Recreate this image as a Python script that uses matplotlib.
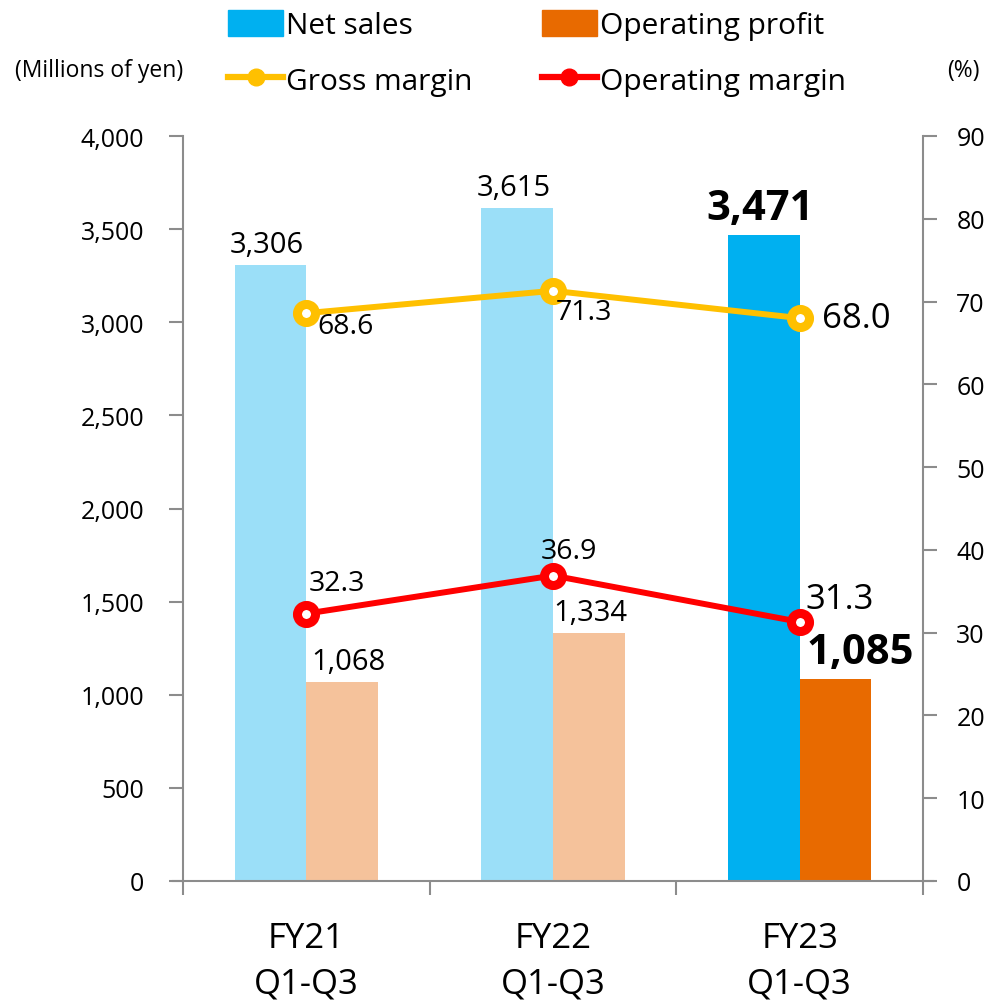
import matplotlib
matplotlib.use("Agg")
import matplotlib.pyplot as plt
import numpy as np
from matplotlib.lines import Line2D
from matplotlib.patches import Patch

plt.rcParams['font.family'] = ['Open Sans', 'DejaVu Sans']

categories = ["FY21\nQ1-Q3", "FY22\nQ1-Q3", "FY23\nQ1-Q3"]
net_sales = [3306, 3615, 3471]
operating_profit = [1068, 1334, 1085]
gross_margin = [68.6, 71.3, 68.0]
operating_margin = [32.3, 36.9, 31.3]

ns_colors = ["#9BDFF8", "#9BDFF8", "#00B0F0"]
op_colors = ["#F5C29B", "#F5C29B", "#E86A00"]
grey = "#8C8C8C"

fig = plt.figure(figsize=(9.87, 10.03), dpi=100)
ax = fig.add_axes([183/987, 1-882/1003, 740/987, 745/1003])
ax2 = ax.twinx()

x = np.arange(len(categories))
w = 0.29
ax.bar(x - w/2, net_sales, w, color=ns_colors, zorder=2)
ax.bar(x + w/2, operating_profit, w, color=op_colors, zorder=2)
ax.set_xlim(-0.5, 2.5)
ax.set_ylim(0, 4000)
ax.set_yticks(np.arange(0, 4001, 500))
ax.set_yticklabels([f"{v:,}" for v in range(0, 4001, 500)])
ax.set_xticks([-0.5, 0.5, 1.5, 2.5])
ax.set_xticklabels([])
ax.set_xticks(x, minor=True)
ax.set_xticklabels(categories, minor=True, fontsize=25, linespacing=1.45)
ax.tick_params(axis='x', which='minor', length=0, pad=29)
ax.tick_params(axis='x', which='major', length=10, width=1.5, color=grey, direction='out')

ax2.set_ylim(0, 90)
ax2.set_yticks(np.arange(0, 91, 10))
ax2.plot(x, gross_margin, color="#FFC000", lw=4.3, marker='o', ms=13,
         mfc='white', mec="#FFC000", mew=6.5, zorder=3)
ax2.plot(x, operating_margin, color="#FF0000", lw=4.3, marker='o', ms=13,
         mfc='white', mec="#FF0000", mew=6.5, zorder=3)

for a in (ax, ax2):
    a.spines['top'].set_visible(False)
    for s in ('left', 'right', 'bottom'):
        a.spines[s].set_color(grey)
        a.spines[s].set_linewidth(1.5)
    a.tick_params(axis='y', length=10, width=1.5, color=grey, labelsize=18)
ax.tick_params(axis='y', pad=18)
ax2.tick_params(axis='y', pad=14)
ax.spines['bottom'].set_visible(False)
ax2.spines['bottom'].set_visible(False)
ax.spines['right'].set_visible(False)
ax2.spines['left'].set_visible(False)
ax.axhline(0, xmin=-0.013, xmax=1.013, color=grey, lw=1.5, clip_on=False, zorder=4)

# data labels for bars (offsets in pixels)
ns_fs = [21, 21, 30]
ns_dx = [-4, -3, -4]
op_fs = [21, 21, 30]
op_dx = [6, 2, 25]
for i in range(3):
    fw = 'bold' if i == 2 else 'normal'
    ax.annotate(f"{net_sales[i]:,}", (x[i] - w/2, net_sales[i]), xytext=(ns_dx[i], 6),
                textcoords='offset pixels', ha='center', va='bottom',
                fontsize=ns_fs[i], fontweight=fw)
    ax.annotate(f"{operating_profit[i]:,}", (x[i] + w/2, operating_profit[i]), xytext=(op_dx[i], 6),
                textcoords='offset pixels', ha='center', va='bottom',
                fontsize=op_fs[i], fontweight=fw)

# margin labels (offsets in pixels, label centre relative to marker)
m_fs = [20.5, 20.5, 25]
gm_off = [(11, -13), (3, -21), (22, 0)]
om_off = [(2, 31), (-12, 25), (6, 23)]
for i in range(3):
    ax2.annotate(f"{gross_margin[i]:.1f}", (x[i], gross_margin[i]), xytext=gm_off[i],
                 textcoords='offset pixels', ha='left', va='center', fontsize=m_fs[i])
    ax2.annotate(f"{operating_margin[i]:.1f}", (x[i], operating_margin[i]), xytext=om_off[i],
                 textcoords='offset pixels', ha='left', va='center', fontsize=m_fs[i])

fig.text(99/987, 1-71/1003, "(Millions of yen)", ha='center', va='center', fontsize=16.5)
fig.text(963/987, 1-71/1003, "(%)", ha='center', va='center', fontsize=16.5)

handles = [Patch(color="#00B0F0"),
           Line2D([], [], color="#FFC000", lw=4.5, marker='o', ms=12),
           Patch(color="#E86A00"),
           Line2D([], [], color="#FF0000", lw=4.5, marker='o', ms=12)]
labels = ["Net sales", "Gross margin", "Operating profit", "Operating margin"]
fig.legend(handles, labels, loc='center', bbox_to_anchor=(537/987, 1-54/1003), ncol=2,
           frameon=False, fontsize=21.5, handlelength=1.85, handleheight=1.0, handletextpad=0.1,
           columnspacing=2.3, labelspacing=0.85)

fig.savefig("out.png", dpi=100)
